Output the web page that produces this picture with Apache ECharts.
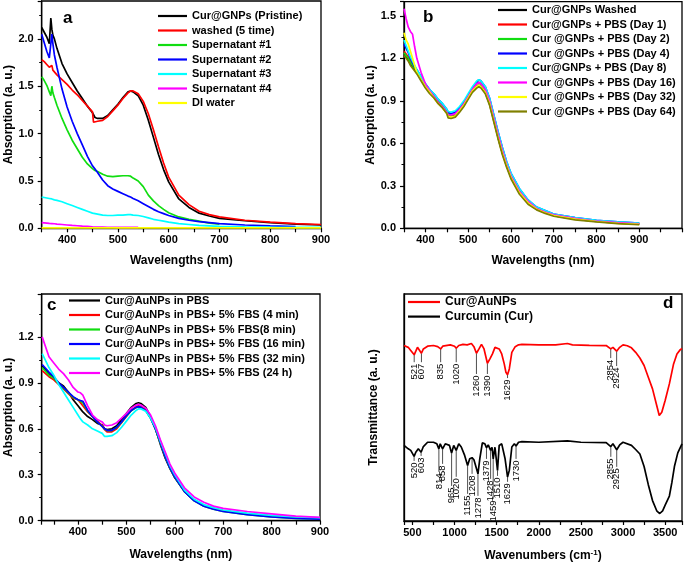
<!DOCTYPE html>
<html><head><meta charset="utf-8">
<script src="https://cdn.jsdelivr.net/npm/echarts@6/dist/echarts.min.js"></script>
<style>html,body{margin:0;padding:0;background:#fff}#c{width:685px;height:566px}</style>
</head><body><div id="c"></div>
<script>
// ---------- Panel a ----------
const waveA = [350,355,360,365,368,370,372,375,380,390,400,410,420,430,440,450,452,455,460,470,480,490,500,510,520,525,530,540,550,560,570,580,590,600,620,640,660,680,700,750,800,850,900];
const aPristine = [2.12,2.07,2.02,1.95,2.22,2.10,2.04,2.00,1.90,1.74,1.63,1.54,1.45,1.37,1.29,1.22,1.20,1.17,1.16,1.16,1.19,1.25,1.31,1.38,1.44,1.45,1.44,1.40,1.30,1.14,0.96,0.78,0.62,0.49,0.31,0.22,0.16,0.13,0.105,0.08,0.06,0.045,0.035];
const aWashed = [1.78,1.76,1.73,1.70,1.69,1.72,1.67,1.65,1.62,1.57,1.52,1.46,1.41,1.35,1.29,1.23,1.12,1.12,1.13,1.14,1.18,1.24,1.30,1.37,1.43,1.45,1.45,1.42,1.34,1.21,1.04,0.86,0.69,0.54,0.35,0.25,0.18,0.145,0.12,0.085,0.065,0.05,0.04];
const aSup1 = [1.60,1.56,1.51,1.44,1.40,1.50,1.43,1.38,1.30,1.16,1.04,0.93,0.84,0.75,0.68,0.63,0.62,0.61,0.60,0.57,0.55,0.545,0.55,0.555,0.555,0.55,0.53,0.50,0.44,0.35,0.29,0.24,0.20,0.165,0.12,0.095,0.075,0.055,0.045,null,null,null,null];
const aSup2 = [2.05,1.96,1.87,1.80,1.82,2.05,1.95,1.83,1.70,1.47,1.28,1.13,1.00,0.88,0.76,0.66,0.645,0.625,0.59,0.51,0.45,0.415,0.39,0.365,0.34,0.33,0.315,0.29,0.26,0.23,0.20,0.175,0.155,0.135,0.105,0.085,0.07,0.06,0.05,0.035,0.025,0.018,null];
const aSup3 = [0.33,0.325,0.32,0.315,0.31,0.31,0.305,0.30,0.295,0.28,0.26,0.24,0.22,0.20,0.18,0.16,0.158,0.155,0.15,0.14,0.135,0.135,0.14,0.14,0.145,0.145,0.14,0.135,0.125,0.11,0.095,0.085,0.075,0.065,0.05,0.04,0.03,0.025,0.02,0.015,0.012,0.01,0.01];
const aSup4 = [0.06,0.058,0.055,0.052,0.05,0.05,0.049,0.048,0.045,0.04,0.035,0.03,0.027,0.023,0.02,0.015,0.014,0.013,0.012,0.012,0.011,0.011,0.01,0.01,0.01,0.01,0.01,0.01,null,null,null,null,null,null,null,null,null,null,null,null,null,null,null];
const waveDI = [350,500,700,900];
const aDI = [0.004,0.004,0.004,0.004];

// ---------- Panel b ----------
const waveB = [350,355,360,365,370,375,380,390,400,410,420,430,440,450,453,455,460,470,480,490,500,510,520,525,530,540,550,560,570,580,590,600,620,640,660,680,700,750,800,850,900];
const bWashed = [1.22,1.21,1.19,1.16,1.14,1.12,1.10,1.05,1.00,0.96,0.93,0.89,0.86,0.82,0.80,0.79,0.79,0.80,0.83,0.87,0.92,0.97,1.00,1.01,1.00,0.96,0.88,0.76,0.64,0.53,0.44,0.36,0.25,0.18,0.135,0.11,0.09,0.065,0.048,0.037,0.03];
const bDay1 = [1.25,1.23,1.21,1.18,1.16,1.13,1.11,1.06,1.01,0.97,0.94,0.90,0.87,0.83,0.81,0.80,0.80,0.81,0.84,0.88,0.93,0.98,1.02,1.03,1.02,0.98,0.90,0.78,0.66,0.55,0.45,0.37,0.26,0.19,0.14,0.115,0.095,0.07,0.052,0.04,0.033];
const bDay2 = [1.24,1.22,1.20,1.17,1.15,1.13,1.11,1.06,1.01,0.97,0.94,0.90,0.87,0.83,0.81,0.80,0.80,0.81,0.84,0.88,0.93,0.98,1.02,1.03,1.02,0.98,0.90,0.78,0.66,0.55,0.45,0.37,0.26,0.19,0.14,0.115,0.095,0.07,0.05,0.038,0.03];
const bDay4 = [1.30,1.27,1.24,1.20,1.17,1.14,1.12,1.07,1.02,0.98,0.95,0.91,0.88,0.84,0.82,0.81,0.81,0.82,0.85,0.89,0.94,0.99,1.03,1.05,1.04,1.00,0.92,0.80,0.68,0.57,0.47,0.39,0.28,0.20,0.15,0.125,0.10,0.075,0.056,0.045,0.036];
const bDay8 = [1.33,1.29,1.25,1.21,1.18,1.15,1.12,1.07,1.02,0.98,0.95,0.91,0.88,0.84,0.825,0.82,0.82,0.83,0.86,0.90,0.95,1.00,1.04,1.05,1.04,1.00,0.92,0.80,0.68,0.57,0.47,0.39,0.28,0.20,0.15,0.125,0.10,0.075,0.056,0.045,0.036];
const bDay16 = [1.55,1.48,1.42,1.39,1.37,1.28,1.20,1.10,1.02,0.97,0.93,0.89,0.86,0.82,0.80,0.795,0.80,0.81,0.84,0.88,0.93,0.98,1.02,1.03,1.02,0.98,0.90,0.78,0.66,0.55,0.45,0.37,0.26,0.19,0.14,0.115,0.095,0.07,0.05,0.04,0.032];
const bDay32 = [1.38,1.33,1.30,1.25,1.20,1.15,1.10,1.05,1.00,0.96,0.92,0.88,0.85,0.81,0.79,0.785,0.785,0.795,0.83,0.87,0.92,0.97,1.00,1.01,1.00,0.96,0.88,0.76,0.64,0.53,0.44,0.36,0.25,0.18,0.135,0.11,0.09,0.065,0.048,0.035,0.028];
const bDay64 = [1.22,1.20,1.18,1.15,1.13,1.11,1.09,1.04,0.99,0.95,0.92,0.88,0.85,0.81,0.78,0.775,0.775,0.785,0.82,0.86,0.91,0.96,0.99,1.00,0.99,0.95,0.87,0.75,0.63,0.52,0.43,0.35,0.24,0.17,0.13,0.105,0.085,0.06,0.045,0.033,0.025];

// ---------- Panel c ----------
const waveC = [326,340,350,360,370,380,390,400,405,410,420,430,440,450,455,460,470,480,490,500,510,520,525,530,540,550,560,570,580,590,600,620,640,660,680,700,750,800,850,900];
const cPBS = [1.01,0.96,0.93,0.90,0.88,0.84,0.79,0.75,0.73,0.71,0.68,0.66,0.635,0.625,0.60,0.595,0.60,0.62,0.66,0.70,0.74,0.765,0.77,0.765,0.74,0.68,0.60,0.50,0.41,0.34,0.28,0.19,0.135,0.10,0.08,0.065,0.045,0.03,0.02,0.015];
const cFBS4 = [0.98,0.94,0.92,0.89,0.86,0.83,0.80,0.79,0.77,0.75,0.71,0.68,0.65,0.62,0.595,0.58,0.58,0.60,0.64,0.68,0.72,0.745,0.75,0.745,0.725,0.675,0.60,0.51,0.42,0.35,0.29,0.195,0.135,0.10,0.08,0.065,0.045,0.03,0.02,0.015];
const cFBS8 = [1.00,0.95,0.93,0.895,0.865,0.835,0.805,0.79,0.78,0.77,0.715,0.68,0.645,0.615,0.598,0.588,0.588,0.608,0.643,0.683,0.718,0.738,0.743,0.738,0.718,0.668,0.598,0.508,0.418,0.343,0.283,0.19,0.13,0.095,0.075,0.06,0.04,0.025,0.015,0.01];
const cFBS16 = [1.02,0.97,0.94,0.90,0.87,0.84,0.81,0.79,0.785,0.78,0.72,0.68,0.645,0.615,0.60,0.59,0.59,0.61,0.645,0.685,0.72,0.74,0.745,0.74,0.72,0.67,0.60,0.51,0.42,0.345,0.285,0.19,0.13,0.095,0.075,0.06,0.04,0.025,0.015,0.01];
const cFBS32 = [1.09,1.00,0.95,0.89,0.84,0.79,0.74,0.69,0.665,0.645,0.625,0.60,0.585,0.57,0.55,0.55,0.555,0.575,0.61,0.65,0.69,0.72,0.73,0.73,0.715,0.67,0.61,0.52,0.44,0.36,0.30,0.20,0.14,0.105,0.085,0.07,0.05,0.035,0.025,0.02];
const cFBS24h = [1.20,1.07,1.03,0.99,0.96,0.92,0.87,0.84,0.835,0.82,0.75,0.69,0.66,0.645,0.625,0.62,0.625,0.64,0.67,0.70,0.735,0.755,0.76,0.755,0.735,0.69,0.62,0.53,0.45,0.37,0.31,0.215,0.155,0.12,0.095,0.08,0.06,0.045,0.03,0.022];

// ---------- Panel d (FTIR) ----------
const irRedWn = [400,450,480,500,521,540,560,580,607,630,680,750,800,835,860,950,1000,1020,1050,1100,1150,1200,1230,1260,1290,1320,1350,1390,1420,1450,1480,1500,1530,1560,1590,1610,1629,1650,1680,1720,1760,1800,2000,2200,2340,2400,2600,2800,2854,2880,2924,2960,3000,3050,3100,3150,3200,3250,3300,3350,3400,3430,3460,3500,3550,3600,3640,3680,3700];
const irRedT = [77.3,76.5,75.1,74.3,73.2,74.8,76.5,75.8,73.9,75.8,77,77.3,76.8,75.8,77,77.6,77,76.1,77.3,77.8,77.6,78.2,76.8,73.9,75.8,77.8,75.8,69.5,71.4,73.6,76.5,77.3,75.8,73.6,69.2,65.5,64.4,67,74.3,76.8,77.6,77.8,77.6,77.6,78.2,77.6,77.4,77.3,75.8,76.5,74.8,76.5,77.6,77.2,76.3,74.3,71.8,68.5,63.3,58.2,50.9,46.5,47.9,53.1,60.4,69.2,73.6,75.5,76];
const irCurWn = [400,450,480,500,520,540,570,603,630,680,750,790,814,830,858,890,940,965,990,1020,1050,1080,1120,1155,1180,1208,1230,1278,1300,1330,1360,1379,1400,1428,1445,1459,1480,1510,1530,1560,1600,1629,1650,1680,1710,1730,1760,1800,2000,2340,2500,2800,2855,2880,2925,2960,3000,3100,3150,3200,3250,3300,3350,3400,3436,3470,3500,3550,3580,3610,3650,3700];
const irCurT = [33.3,31.8,31.1,30.3,28.5,30.3,31.8,30.3,32.8,34.7,34.7,34,31.8,34,31.8,34,33.3,29.9,33.3,31.1,34,32.6,28.9,24.5,27.4,27.9,27,20.8,27.5,34.4,34,32.3,33.5,31.1,32.5,27.4,32.5,22.3,33.3,34,27.4,19.4,22.3,32.6,34,33,34.7,35,34.7,35.3,34.7,34.5,32.8,34,31.4,33.5,34.7,33.3,31.5,29.5,24,16,9,4.5,3.3,4.5,7,11,17,24,30,34];
const redPeaks = [521,607,835,1020,1260,1390,1629,2854,2924];
const redPeakLineTop = [73.2,73.9,75.8,76.1,73.9,69.5,64.4,75.8,74.8];
const redPeakLabelTop = [69.3,69.3,69.3,69.3,64.1,64.1,62.3,71.1,67.6];
const curPeaks = [520,603,814,858,965,1020,1155,1208,1278,1379,1428,1459,1510,1629,1730,2855,2925];
const curPeakLineTop = [28.5,30.3,31.8,31.8,29.9,31.1,24.5,27.9,20.8,32.3,31.1,27.4,22.3,19.4,33,32.8,31.4];
const curPeakLabelTop = [25.8,28.0,21.0,24.5,14.8,18.8,11.3,20.1,10.4,26.7,17.9,9.1,19.2,16.6,26.7,27.6,23.2];

// ---------- build ----------
const FONT = '"Liberation Sans", Arial, sans-serif';
function pairs(xs, ys){ return xs.map((x,i)=>[x, ys[i]]).filter(p=>p[1]!=null); }
function ls(name, xs, ys, color, idx){
  return {type:'line', name, data:pairs(xs,ys), xAxisIndex:idx, yAxisIndex:idx, symbol:'none', showSymbol:false,
    color, lineStyle:{color, width:1.7}, itemStyle:{color}, animation:false};
}
function stepLabel(step, lo, hi, dec){
  return v => { const k = v/step; if (Math.abs(k-Math.round(k))>1e-6 || v<lo-1e-9 || v>hi+1e-9) return '';
    return dec!=null ? v.toFixed(dec) : String(Math.round(v)); };
}
const axLine = {show:true, onZero:false, lineStyle:{color:'#000', width:1.3}};
const axTick = {show:true, inside:false, length:4, lineStyle:{color:'#000', width:1.2}};
const nameStyle = {color:'#000', fontSize:12, fontWeight:'bold', fontFamily:FONT};
function xAx(gi, min, max, extra, fmt, name, gap){
  return Object.assign({type:'value', gridIndex:gi, min, max, axisLine:axLine, axisTick:axTick, splitLine:{show:false},
    axisLabel:{color:'#000', fontSize:11, fontWeight:'bold', fontFamily:FONT, margin:6, formatter:fmt, hideOverlap:false},
    name, nameLocation:'middle', nameGap:gap, nameTextStyle:nameStyle}, extra);
}
function yAx(gi, min, max, interval, fmt, name, gap){
  return {type:'value', gridIndex:gi, min, max, interval, axisLine:axLine, axisTick:axTick, splitLine:{show:false},
    minorTick:{show:true, splitNumber:2, length:2.5, lineStyle:{color:'#000', width:1}},
    axisLabel:{color:'#000', fontSize:11, fontWeight:'bold', fontFamily:FONT, margin:8, formatter:fmt},
    name, nameLocation:'middle', nameGap:gap, nameTextStyle:nameStyle};
}
const gridBase = {show:true, borderColor:'#000', borderWidth:1.3, backgroundColor:'transparent', containLabel:false};
const legendBase = {orient:'vertical', icon:'rect', itemWidth:29, itemHeight:2.2, itemGap:2.5, padding:0, selectedMode:false,
  textStyle:{fontSize:11, fontWeight:'bold', color:'#000', fontFamily:FONT, lineHeight:12}};

function peakRender(params, api){
  const x = api.value(0), yl = api.value(1), yt = api.value(2);
  const p1 = api.coord([x, yl]), p2 = api.coord([x, yt]);
  return {type:'group', children:[
    {type:'line', shape:{x1:p1[0], y1:p1[1], x2:p2[0], y2:p2[1]-1.5}, style:{stroke:'#222', lineWidth:0.8}},
    {type:'text', x:p2[0], y:p2[1], rotation:Math.PI/2,
      style:{text:String(x), align:'right', verticalAlign:'middle', font:'9.5px ' + FONT, fill:'#000'}}
  ]};
}
function peakSeries(name, wn, lt, tt){
  return {type:'custom', name, xAxisIndex:3, yAxisIndex:3, renderItem:peakRender, animation:false, silent:true,
    data: wn.map((w,i)=>[w, lt[i], tt[i]]), encode:{x:0, y:[1,2]}, clip:false};
}

const namesA = ['Cur@GNPs (Pristine)','washed (5 time)','Supernatant #1','Supernatant #2','Supernatant #3','Supernatant #4','DI water'];
const namesB = ['Cur@GNPs Washed','Cur@GNPs + PBS (Day 1)','Cur @GNPs + PBS (Day 2)','Cur @GNPs + PBS (Day 4)','Cur@GNPs + PBS (Day 8)','Cur @GNPs + PBS (Day 16)','Cur @GNPs + PBS (Day 32)','Cur @GNPs + PBS (Day 64)'];
const namesC = ['Cur@AuNPs in PBS','Cur@AuNPs in PBS+ 5% FBS (4 min)','Cur@AuNPs in PBS+ 5% FBS(8 min)','Cur@AuNPs in PBS+ 5% FBS (16 min)','Cur@AuNPs in PBS+ 5% FBS (32 min)','Cur@AuNPs in PBS+ 5% FBS (24 h)'];
const namesD = ['Cur@AuNPs','Curcumin (Cur)'];
const GREEN = '#11dd11';

const option = {
  animation:false,
  backgroundColor:'#fff',
  title:[
    {text:'a', left:63, top:10, padding:0, textStyle:{fontSize:17, fontWeight:'bold', color:'#000', fontFamily:FONT}},
    {text:'b', left:423, top:9, padding:0, textStyle:{fontSize:17, fontWeight:'bold', color:'#000', fontFamily:FONT}},
    {text:'c', left:47, top:297, padding:0, textStyle:{fontSize:17, fontWeight:'bold', color:'#000', fontFamily:FONT}},
    {text:'d', left:663, top:295, padding:0, textStyle:{fontSize:17, fontWeight:'bold', color:'#000', fontFamily:FONT}}
  ],
  grid:[
    Object.assign({left:41.7, top:1, width:279.3, height:227.3}, gridBase),
    Object.assign({left:404, top:1.7, width:279, height:226.6}, gridBase),
    Object.assign({left:41.7, top:294, width:278.3, height:226.7}, gridBase),
    Object.assign({left:404, top:294, width:279, height:227}, gridBase)
  ],
  xAxis:[
    xAx(0, 350, 900, {interval:50}, stepLabel(100,400,900), 'Wavelengths (nm)', 26),
    xAx(1, 350, 1000, {interval:50}, stepLabel(100,400,900), 'Wavelengths (nm)', 26),
    xAx(2, 325, 900, {minInterval:50, maxInterval:50}, stepLabel(100,400,900), 'Wavelengths (nm)', 28),
    Object.assign(xAx(3, 400, 3700, {minInterval:250, maxInterval:250}, stepLabel(500,500,3500), 'Wavenumbers (cm{sup|-1})', 28),
      {nameTextStyle:Object.assign({}, nameStyle, {rich:{sup:{fontSize:8, fontWeight:'bold', color:'#000', fontFamily:FONT, verticalAlign:'top', padding:[0,0,6,0]}}})})
  ],
  yAxis:[
    yAx(0, 0, 2.4, 0.5, stepLabel(0.5,0,2.0,1), 'Absorption (a. u.)', 26),
    yAx(1, 0, 1.6, 0.3, stepLabel(0.3,0,1.5,1), 'Absorption (a. u.)', 24),
    yAx(2, 0, 1.48, 0.3, stepLabel(0.3,0,1.2,1), 'Absorption (a. u.)', 27),
    {type:'value', gridIndex:3, min:0, max:100, axisLine:axLine, axisTick:{show:false}, axisLabel:{show:false}, splitLine:{show:false},
      name:'Transmittance (a. u.)', nameLocation:'middle', nameGap:24, nameTextStyle:nameStyle}
  ],
  legend:[
    Object.assign({}, legendBase, {data:namesA, left:158, top:10}),
    Object.assign({}, legendBase, {data:namesB, left:498, top:4}),
    Object.assign({}, legendBase, {data:namesC, left:69, top:294.5, itemWidth:31}),
    Object.assign({}, legendBase, {data:namesD, left:408, top:296, itemWidth:32, itemGap:2.6, textStyle:Object.assign({}, legendBase.textStyle, {fontSize:12})})
  ],
  series:[
    ls(namesA[0], waveA, aPristine, '#000000', 0),
    ls(namesA[1], waveA, aWashed, '#ff0000', 0),
    ls(namesA[2], waveA, aSup1, GREEN, 0),
    ls(namesA[3], waveA, aSup2, '#0000ff', 0),
    ls(namesA[4], waveA, aSup3, '#00ffff', 0),
    ls(namesA[5], waveA, aSup4, '#ff00ff', 0),
    ls(namesA[6], waveDI, aDI, '#ffff00', 0),

    ls(namesB[0], waveB, bWashed, '#000000', 1),
    ls(namesB[1], waveB, bDay1, '#ff0000', 1),
    ls(namesB[2], waveB, bDay2, GREEN, 1),
    ls(namesB[3], waveB, bDay4, '#0000ff', 1),
    ls(namesB[4], waveB, bDay8, '#00ffff', 1),
    ls(namesB[5], waveB, bDay16, '#ff00ff', 1),
    ls(namesB[6], waveB, bDay32, '#ffff00', 1),
    ls(namesB[7], waveB, bDay64, '#808000', 1),

    ls(namesC[0], waveC, cPBS, '#000000', 2),
    ls(namesC[1], waveC, cFBS4, '#ff0000', 2),
    ls(namesC[2], waveC, cFBS8, GREEN, 2),
    ls(namesC[3], waveC, cFBS16, '#0000ff', 2),
    ls(namesC[4], waveC, cFBS32, '#00ffff', 2),
    ls(namesC[5], waveC, cFBS24h, '#ff00ff', 2),

    ls(namesD[0], irRedWn, irRedT, '#ff0000', 3),
    ls(namesD[1], irCurWn, irCurT, '#000000', 3),
    peakSeries('peaksRed', redPeaks, redPeakLineTop, redPeakLabelTop),
    peakSeries('peaksCur', curPeaks, curPeakLineTop, curPeakLabelTop)
  ]
};
const chart = echarts.init(document.getElementById('c'), null, {renderer:'canvas'});
chart.setOption(option);
</script>
</body></html>
